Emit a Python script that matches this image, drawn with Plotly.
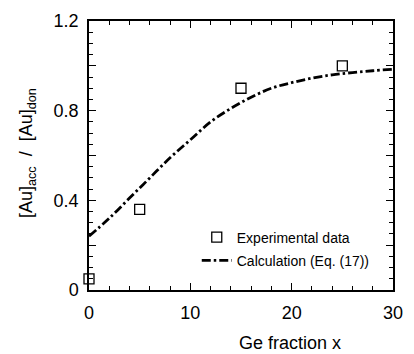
import plotly.graph_objects as go

exp_x = [0, 5, 15, 25]
exp_y = [0.05, 0.36, 0.90, 1.00]

calc_x = [0, 2, 4, 6, 8, 10, 12, 14, 16, 18, 20, 22, 24, 26, 28, 30]
calc_y = [0.24, 0.32, 0.41, 0.50, 0.59, 0.67, 0.75, 0.81, 0.86, 0.90, 0.925, 0.945, 0.96, 0.97, 0.978, 0.985]

y_tickvals = [0, 0.2, 0.4, 0.6, 0.8, 1.0, 1.2]
y_ticktext = ["0", "", "0.4", "", "0.8", "", "1.2"]
x_tickvals = [0, 10, 20, 30]

x_title = "Ge fraction x"
y_title = "[Au]<sub>acc</sub>  /  [Au]<sub>don</sub>"

FONT = "Liberation Sans, Arial, Helvetica, sans-serif"

fig = go.Figure()
fig.add_trace(go.Scatter(
    x=exp_x, y=exp_y, mode="markers", name="Experimental data", legendgroup="a",
    marker=dict(symbol="square-open", size=10, color="black", line=dict(width=1.3, color="black")),
    cliponaxis=False,
))
fig.add_trace(go.Scatter(
    x=calc_x, y=calc_y, mode="lines", name="Calculation (Eq. (17))", legendgroup="b",
    line=dict(color="black", width=2.8, dash="9px,3px,2.5px,3px", shape="spline"),
))

axis_common = dict(
    showline=True, linecolor="black", linewidth=1.5, mirror="ticks",
    ticks="inside", ticklen=7, tickwidth=1.2, tickcolor="black",
    showgrid=False, zeroline=False,
    tickfont=dict(family=FONT, size=18, color="black"),
)

fig.update_xaxes(
    range=[0, 30], tickvals=x_tickvals, ticklabelstandoff=6,
    minor=dict(ticks="inside", dtick=2, ticklen=4, tickwidth=1, tickcolor="black"),
    **axis_common,
)
fig.update_yaxes(
    range=[0, 1.2], tickvals=y_tickvals, ticktext=y_ticktext, ticklabelstandoff=5,
    minor=dict(ticks="inside", dtick=0.05, ticklen=4, tickwidth=1, tickcolor="black"),
    **axis_common,
)

fig.add_annotation(
    text=x_title, xref="x", yref="paper", x=19.8, y=-0.197,
    xanchor="center", yanchor="middle", showarrow=False,
    font=dict(family=FONT, size=18, color="black"),
)
fig.add_annotation(
    text=y_title, xref="paper", yref="paper", x=-0.2, y=0.51, textangle=-90,
    xanchor="center", yanchor="middle", showarrow=False,
    font=dict(family=FONT, size=18, color="black"),
)

fig.update_layout(
    width=414, height=354,
    margin=dict(l=89, r=11, t=15, b=64),
    paper_bgcolor="white", plot_bgcolor="white",
    font=dict(family=FONT, color="black"),
    showlegend=True,
    legend=dict(
        x=0.94, y=0.152, xanchor="right", yanchor="middle",
        bgcolor="rgba(0,0,0,0)", borderwidth=0,
        font=dict(family=FONT, size=14, color="black"),
        tracegroupgap=2, itemwidth=30,
    ),
)

fig.write_html("out.html")
